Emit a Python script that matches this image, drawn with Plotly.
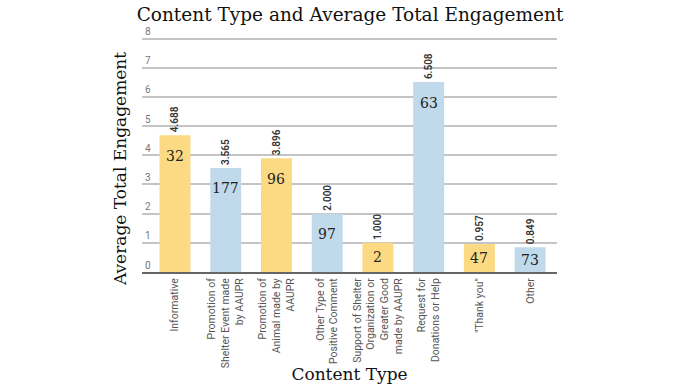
import plotly.graph_objects as go

categories = [
    "Informative",
    "Promotion of<br>Shelter Event made<br>by AAUPR",
    "Promotion of<br>Animal made by<br>AAUPR",
    "Other Type of<br>Positive Comment",
    "Support of Shelter<br>Organization or<br>Greater Good<br>made by AAUPR",
    "Request for<br>Donations or Help",
    "\"Thank you\"",
    "Other",
]
avg_engagement = [4.688, 3.565, 3.896, 2.000, 1.000, 6.508, 0.957, 0.849]
post_counts = [32, 177, 96, 97, 2, 63, 47, 73]
bar_colors = ["#FCDA83", "#C0DAEB", "#FCDA83", "#C0DAEB", "#FCDA83", "#C0DAEB", "#FCDA83", "#C0DAEB"]

serif = "DejaVu Serif"
sans = "Roboto"

x_idx = list(range(len(categories)))

fig = go.Figure()
fig.add_trace(go.Bar(
    x=x_idx,
    y=avg_engagement,
    marker=dict(color=bar_colors, line=dict(width=0)),
    text=[f"{v:.3f}" for v in avg_engagement],
    textposition="outside",
    textangle=-90,
    constraintext="none",
    cliponaxis=False,
    textfont=dict(family=sans, size=10, color="#333333", weight=600),
    hoverinfo="skip",
))

for i, (v, c) in enumerate(zip(avg_engagement, post_counts)):
    fig.add_annotation(
        x=i, y=max(v - 0.7, v / 2), text=str(c), showarrow=False,
        font=dict(family=serif, size=14, color="#222222"),
        xanchor="center", yanchor="middle",
    )

# y-axis title as annotation (centered lower than plot-area middle, like reference)
fig.add_annotation(
    xref="paper", yref="paper", x=-0.053, y=0.415,
    text="Average Total Engagement", textangle=-90, showarrow=False,
    font=dict(family=serif, size=17, color="#111111"),
    xanchor="center", yanchor="middle",
)

fig.update_layout(
    width=700, height=390,
    margin=dict(l=142, r=143, t=24, b=118),
    paper_bgcolor="white", plot_bgcolor="white",
    bargap=0.39,
    showlegend=False,
    title=dict(text="Content Type and Average Total Engagement",
               font=dict(family=serif, size=18.5, color="#111111"),
               x=0.5, xanchor="center", y=0.962, yanchor="middle"),
    font=dict(family=sans),
)
fig.update_xaxes(
    tickmode="array", tickvals=x_idx, ticktext=categories,
    tickangle=-90, range=[-0.65, 7.53],
    tickfont=dict(family=sans, size=10.5, color="#555555"),
    showgrid=False, zeroline=False,
    showline=True, linecolor="#666666", linewidth=2,
    ticks="", automargin=False,
    title=dict(text="Content Type", font=dict(family=serif, size=17, color="#111111"), standoff=0),
)
fig.update_yaxes(
    range=[0, 8.5], tickvals=[0, 1, 2, 3, 4, 5, 6, 7, 8],
    ticklabelposition="inside top",
    tickfont=dict(family=sans, size=10, color="#777777"),
    showgrid=True, gridcolor="#C4C4C4", gridwidth=2,
    zeroline=False, showline=False, ticks="", automargin=False,
)

fig.write_html("out.html", config={"displayModeBar": False},
               post_script="document.body.style.margin='0';")
